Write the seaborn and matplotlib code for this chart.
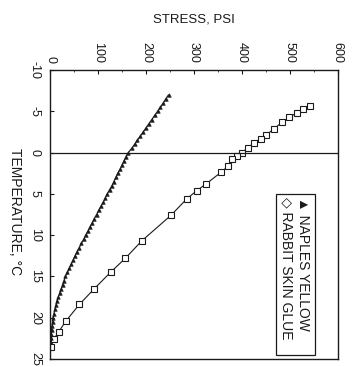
import matplotlib
matplotlib.use("Agg")
import matplotlib.pyplot as plt
from matplotlib.ticker import MultipleLocator
import seaborn as sns
import pandas as pd

# Rabbit skin glue (open squares)
glue_temp = [-5.7, -5.3, -4.8, -4.3, -3.7, -2.9, -2.1, -1.7, -1.2, -0.6, 0.0, 0.4, 0.8,
             1.6, 2.4, 3.8, 4.6, 5.6, 7.6, 10.7, 12.8, 14.5, 16.5, 18.4, 20.4, 21.7, 22.6, 23.5]
glue_stress = [541, 528, 514, 499, 484, 467, 450, 440, 425, 413, 400, 390, 380,
               372, 356, 325, 306, 285, 252, 191, 157, 126, 92, 61, 33, 18, 8, 2]

# Naples yellow (small dense markers)
naples_temp = [-7.0, -6.5, -6.0, -5.5, -5.0, -4.5, -4.0, -3.5, -3.0, -2.5, -2.0, -1.5, -1.0, -0.5,
               0.0, 0.5, 1.0, 1.5, 2.0, 2.5, 3.0, 3.5, 4.0, 4.5, 5.0, 5.5, 6.0, 6.5, 7.0, 7.5,
               8.0, 8.5, 9.0, 9.5, 10.0, 10.5, 11.0, 11.5, 12.0, 12.5, 13.0, 13.5, 14.0, 14.5,
               15.0, 15.5, 16.0, 16.5, 17.0, 17.5, 18.0, 18.5, 19.0, 19.5, 20.0, 20.5, 21.0,
               21.5, 22.0, 22.5, 23.0]
naples_stress = [247, 241, 236, 230, 224, 218, 212, 206, 200, 194, 188, 182, 176, 170,
                 163, 158, 154, 150, 146, 141, 137, 133, 129, 124, 119, 115, 111, 106, 101, 97,
                 92, 88, 83, 79, 74, 70, 65, 61, 56, 52, 48, 44, 40, 36,
                 32, 29, 26, 23, 20, 17, 14, 12, 10, 8, 6, 5, 4,
                 3, 2, 1, 0]

series_labels = ["RABBIT SKIN GLUE", "NAPLES YELLOW"]
stress_ticks = [0, 100, 200, 300, 400, 500, 600]
temp_ticks = [-10, -5, 0, 5, 10, 15, 20, 25]

glue_df = pd.DataFrame({"stress": glue_stress, "temp": glue_temp})
naples_df = pd.DataFrame({"stress": naples_stress, "temp": naples_temp})

sns.set_style("ticks")
plt.rcParams["font.family"] = ["Liberation Sans", "DejaVu Sans"]
ink = "#1a1a1a"

fig = plt.figure(figsize=(3.53, 3.67), dpi=100)
ax = fig.add_axes([0.142, 0.022, 0.815, 0.787])

sns.lineplot(data=glue_df, x="stress", y="temp", sort=False, estimator=None,
             color=ink, lw=0.8, marker="s", markersize=4.3, markerfacecolor="white",
             markeredgecolor=ink, markeredgewidth=0.8, ax=ax)
sns.lineplot(data=naples_df, x="stress", y="temp", sort=False, estimator=None,
             color=ink, lw=0.9, marker="^", markersize=2.6, markerfacecolor=ink,
             markeredgecolor=ink, markeredgewidth=0.4, ax=ax)

ax.axhline(0, color=ink, lw=0.9)

ax.set_xlim(0, 600)
ax.set_ylim(25, -10)
ax.xaxis.tick_top()
ax.xaxis.set_label_position("top")
ax.set_xticks(stress_ticks)
ax.set_xticklabels([str(t) for t in stress_ticks], rotation=-90, va="bottom", ha="center")
ax.xaxis.set_minor_locator(MultipleLocator(50))
ax.set_yticks(temp_ticks)
ax.set_yticklabels([str(t) for t in temp_ticks], rotation=-90, va="center", ha="center")
ax.tick_params(axis="x", which="major", direction="in", length=3, width=0.8, pad=5,
               labelsize=9, colors=ink)
ax.tick_params(axis="x", which="minor", direction="in", length=1.5, width=0.6, top=True)
ax.tick_params(axis="y", which="major", direction="in", length=3, width=0.8, pad=11,
               labelsize=9, colors=ink)
for s in ax.spines.values():
    s.set_linewidth(1.0)
    s.set_color(ink)

ax.set_xlabel("STRESS, PSI", fontsize=9.5, color=ink, labelpad=14)
ax.set_ylabel("TEMPERATURE, °C", fontsize=10, color=ink, rotation=-90, va="center")
ax.yaxis.set_label_coords(-0.122, 0.51)
ax.grid(False)

# rotated legend box
ax.add_patch(plt.Rectangle((0.785, 0.012), 0.135, 0.56, transform=ax.transAxes,
                           facecolor="white", edgecolor=ink, lw=0.9, zorder=5))
ax.text(0.822, 0.562, "◇ " + series_labels[0], transform=ax.transAxes, rotation=-90,
        va="top", ha="center", fontsize=10, color=ink, zorder=6)
ax.text(0.878, 0.562, "▲ " + series_labels[1], transform=ax.transAxes, rotation=-90,
        va="top", ha="center", fontsize=10, color=ink, zorder=6)

fig.savefig("out.png", dpi=100)
